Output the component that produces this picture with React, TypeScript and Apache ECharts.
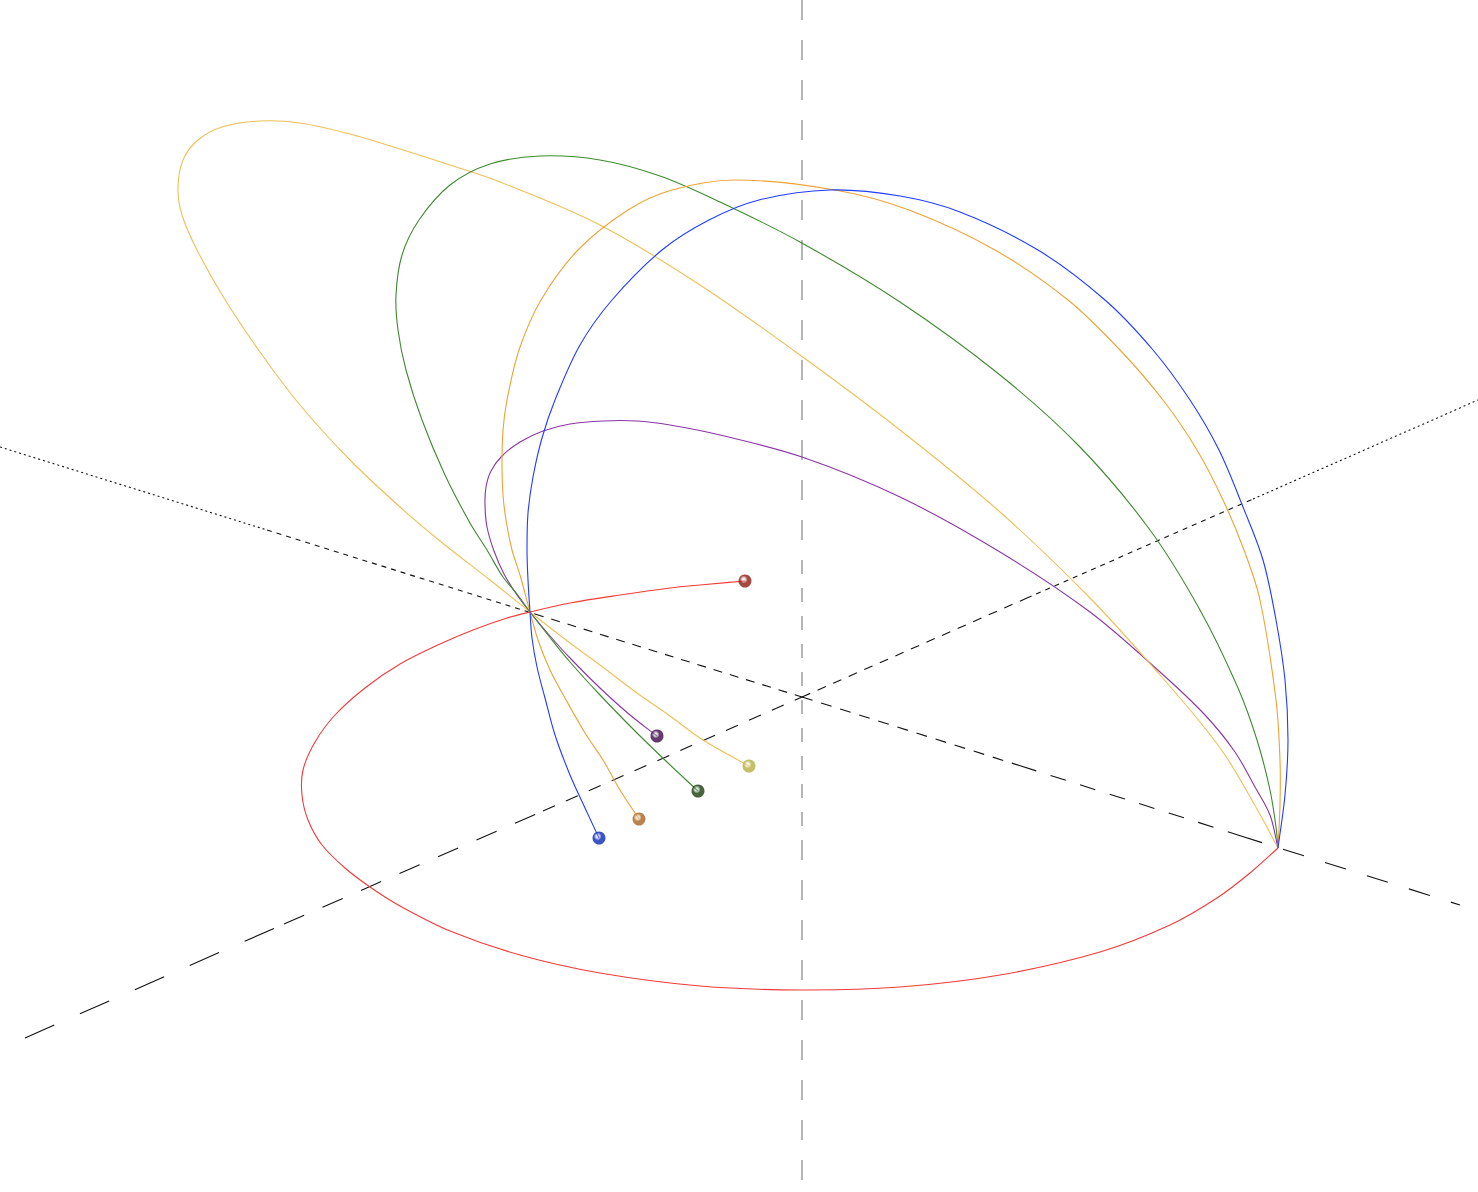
import React, { useEffect, useRef } from "react";
import * as echarts from "echarts";

// Screen-space points (x, y in pixels)
const redCurve = [[745,581],[700,585],[670,588],[620,595],[570,603],[530,612],[507,618],[473,630],[440,644],[400,664],[365,688],[335,715],[315,742],[303,770],[302,795],[308,820],[322,845],[345,868],[370,887],[400,906],[450,931],[520,955],[600,973],[700,986],[800,990],[900,987],[1000,975],[1100,952],[1170,925],[1217,898],[1250,873],[1278,848]];
const blueCurve = [[599,838],[585,808],[570,775],[555,735],[545,698],[537,667],[532,638],[530,612],[528,580],[527,550],[528,513],[533,477],[542,438],[555,400],[580,345],[612,300],[662,250],[709,220],[759,200],[830,190],[900,196],[960,212],[1038,250],[1105,300],[1153,350],[1190,400],[1219,450],[1243,507],[1263,560],[1276,620],[1285,680],[1288,740],[1285,795],[1278,848]];
const orangeCurve = [[639,819],[620,790],[603,760],[585,733],[565,698],[550,670],[538,640],[530,612],[520,575],[512,550],[506,520],[503,495],[502,465],[503,430],[507,400],[519,350],[541,300],[578,250],[628,210],[672,190],[735,180],[835,190],[909,210],[995,250],[1068,300],[1120,350],[1163,400],[1197,450],[1223,500],[1244,550],[1260,600],[1276,700],[1280,760],[1280,805],[1278,848]];
const greenCurve = [[698,791],[667,762],[637,733],[600,695],[570,662],[548,635],[530,612],[517,594],[503,577],[487,550],[470,523],[445,475],[422,420],[406,370],[398,330],[396,295],[402,255],[419,220],[450,185],[490,164],[540,156],[600,160],[660,176],[720,202],[800,242],[900,302],[1000,375],[1080,447],[1150,530],[1200,610],[1238,688],[1257,740],[1270,790],[1276,827],[1278,848]];
const purpleCurve = [[657,736],[630,715],[600,688],[570,658],[550,636],[530,612],[517,595],[504,574],[494,551],[487,527],[485,505],[486,487],[491,471],[502,456],[520,442],[543,431],[570,424],[603,421],[637,421],[670,425],[720,435],[802,457],[900,497],[1000,552],[1090,612],[1160,672],[1205,715],[1235,752],[1255,787],[1270,815],[1278,848]];
const yellowCurve = [[749,766],[703,740],[670,716],[637,693],[600,665],[570,643],[530,612],[490,580],[440,541],[400,507],[350,460],[300,405],[260,352],[224,298],[197,250],[182,215],[178,188],[183,160],[198,140],[222,127],[260,121],[300,123],[350,134],[400,149],[450,165],[500,182],[600,225],[700,285],[800,355],[900,430],[1000,512],[1090,598],[1160,675],[1200,722],[1225,755],[1245,788],[1262,818],[1278,848]];

const curveNames = ["red", "purple", "yellow", "green", "orange", "blue"];
const curveData = [redCurve, purpleCurve, yellowCurve, greenCurve, orangeCurve, blueCurve];
const curveColors = ["#f23a3a", "#8a35a5", "#eebf55", "#3d8a2e", "#eea234", "#1f3cff"];
const dotColors = ["#8e1b12", "#3a0a48", "#b4b040", "#173d0c", "#a8651e", "#0a28b8"];

// Axis lines: breakpoints along each axis, dash pattern per segment (perspective)
const axisAPoints = [[25,1038],[284,924],[543,811],[802,697],[1027,598],[1253,499],[1478,400]];
const axisADash = [[32,28],[22,20],[13,12],[9,8],[5,5],[2,3]];
const axisBPoints = [[0,447],[267,530],[535,614],[802,697],[1021,766],[1241,836],[1460,905]];
const axisBDash = [[2,3],[5,5],[9,8],[11,9],[16,15],[22,22]];
const axisVPoints = [[802,0],[802,560],[802,840],[802,1192]];
const axisVDash = [[20,20],[14,14],[20,20]];

function radial(c: string) {
  return {
    type: "radial", x: 0.4, y: 0.38, r: 0.65,
    colorStops: [
      { offset: 0, color: "rgba(255,255,255,0.18)" },
      { offset: 0.45, color: c },
      { offset: 1, color: c },
    ],
  };
}

// Chord-length Hermite (Catmull-Rom style) path through the projected points
function smoothPath(p: number[][]): string {
  const n = p.length;
  if (n < 2) return "";
  const d: number[] = [];
  for (let i = 0; i < n - 1; i++) d.push(Math.hypot(p[i + 1][0] - p[i][0], p[i + 1][1] - p[i][1]) || 1e-6);
  const m: number[][] = [];
  for (let i = 0; i < n; i++) {
    if (i === 0) m.push([(p[1][0] - p[0][0]) / d[0], (p[1][1] - p[0][1]) / d[0]]);
    else if (i === n - 1) m.push([(p[n - 1][0] - p[n - 2][0]) / d[n - 2], (p[n - 1][1] - p[n - 2][1]) / d[n - 2]]);
    else {
      const s = d[i - 1] + d[i];
      m.push([(p[i + 1][0] - p[i - 1][0]) / s, (p[i + 1][1] - p[i - 1][1]) / s]);
    }
  }
  let s = `M${p[0][0]},${p[0][1]}`;
  for (let i = 0; i < n - 1; i++) {
    const k = d[i] / 3;
    const c1x = p[i][0] + m[i][0] * k, c1y = p[i][1] + m[i][1] * k;
    const c2x = p[i + 1][0] - m[i + 1][0] * k, c2y = p[i + 1][1] - m[i + 1][1] * k;
    s += `C${c1x.toFixed(2)},${c1y.toFixed(2)} ${c2x.toFixed(2)},${c2y.toFixed(2)} ${p[i + 1][0].toFixed(2)},${p[i + 1][1].toFixed(2)}`;
  }
  return s;
}

export default function App() {
  const ref = useRef<HTMLDivElement>(null);
  useEffect(() => {
    if (!ref.current) return;
    const chart = echarts.init(ref.current, undefined, { renderer: "svg" });
    const series: any[] = [];
    const addAxis = (pts: number[][], dashes: number[][], color: string, name: string) => {
      for (let i = 0; i < pts.length - 1; i++) {
        series.push({
          name: name + i, type: "line", data: [pts[i], pts[i + 1]], symbol: "none",
          lineStyle: { color, width: 1.1, type: dashes[i] }, z: 1, silent: true,
        });
      }
    };
    addAxis(axisVPoints, axisVDash, "#7a7a7a", "axisV");
    addAxis(axisAPoints, axisADash, "#111", "axisA");
    addAxis(axisBPoints, axisBDash, "#111", "axisB");
    curveData.forEach((d, i) => {
      const color = curveColors[i];
      series.push({
        name: curveNames[i], type: "custom", coordinateSystem: "cartesian2d",
        data: d, encode: { x: 0, y: 1 }, z: 3, silent: true, clip: false,
        renderItem: (params: any, api: any) => {
          if (params.dataIndex !== 0) return null;
          const pts = d.map((pt) => api.coord(pt));
          return {
            type: "path",
            shape: { pathData: smoothPath(pts) },
            style: { stroke: color, fill: "none", lineWidth: 1.1 },
          };
        },
      });
      series.push({
        name: curveNames[i] + "Dot", type: "scatter", data: [d[0]], symbolSize: 13,
        itemStyle: { color: radial(dotColors[i]) }, z: 5, silent: true,
      });
    });
    chart.setOption({
      animation: false,
      backgroundColor: "#ffffff",
      grid: { left: 0, right: 0, top: 0, bottom: 0 },
      xAxis: { type: "value", min: 0, max: 1478, show: false },
      yAxis: { type: "value", min: 0, max: 1192, inverse: true, show: false },
      series,
    });
    return () => chart.dispose();
  }, []);
  return <div ref={ref} style={{ position: "fixed", left: 0, top: 0, width: 1478, height: 1192 }} />;
}
